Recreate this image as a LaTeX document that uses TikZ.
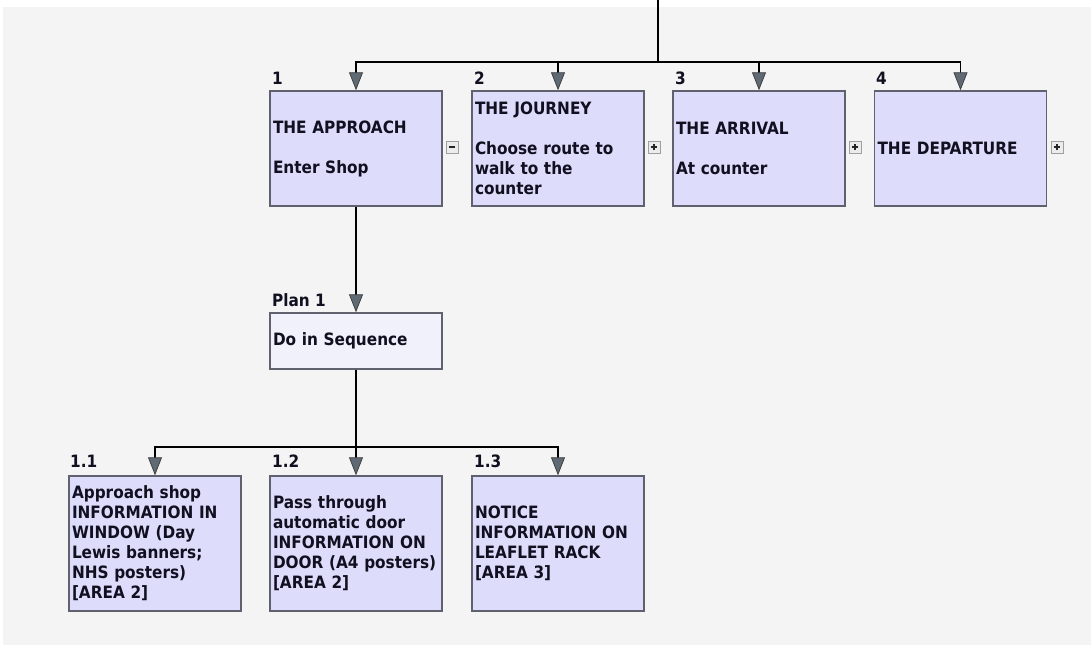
\documentclass[tikz,border=0pt]{standalone}
\usepackage{fontspec}
\setmainfont{DejaVu Sans Condensed}[BoldFont={DejaVu Sans Condensed Bold}]
\usetikzlibrary{arrows.meta}
\definecolor{bgc}{RGB}{244,244,244}
\definecolor{boxfill}{RGB}{221,221,251}
\definecolor{planfill}{RGB}{241,241,251}
\definecolor{boxline}{RGB}{95,98,110}
\definecolor{tipfill}{RGB}{96,106,116}
\definecolor{txt}{RGB}{16,16,32}
\tikzset{
  x=1pt, y=-1pt,
  taskbox/.style={draw=boxline, line width=1.4pt, fill=boxfill, minimum width=172pt,
    minimum height=115pt, text width=166pt, align=left, inner xsep=2pt, inner ysep=3pt, text=txt,
    font=\bfseries\fontsize{17}{20}\selectfont},
  planbox/.style={taskbox, fill=planfill, minimum height=56pt},
  lowbox/.style={taskbox, minimum height=135pt},
  numlbl/.style={anchor=base west, inner sep=0pt, text=txt, font=\bfseries\fontsize{17}{18}\selectfont},
  conn/.style={line width=1.3pt, black},
  arr/.style={conn, -{Triangle[width=14pt,length=18pt,fill=tipfill,color=black!75,line width=0.8pt]}},
  pmicon/.style={draw=gray!75, fill=gray!15, line width=1pt, minimum size=12pt, inner sep=0pt},
}
\newcommand{\plusicon}[2]{\node[pmicon] (#1) at #2 {};
  \draw[line width=1.2pt, black!85] ([xshift=-3.2pt]#1.center) -- ([xshift=3.2pt]#1.center)
    ([yshift=-3.2pt]#1.center) -- ([yshift=3.2pt]#1.center);}
\newcommand{\minusicon}[2]{\node[pmicon] (#1) at #2 {};
  \draw[line width=1.2pt, black!85] ([xshift=-3.2pt]#1.center) -- ([xshift=3.2pt]#1.center);}
\begin{document}
\begin{tikzpicture}
\useasboundingbox (0,0) rectangle (1091,645);
\fill[white] (0,0) rectangle (1091,645);
\fill[bgc] (3,7) rectangle (1091,645);

% top level boxes
\node[taskbox] (b1) at (356,148.5) {THE APPROACH\\[20pt]Enter Shop};
\node[taskbox] (b2) at (558,148.5) {THE JOURNEY\\[20pt]Choose route to\\walk to the\\counter};
\node[taskbox] (b3) at (759,148.5) {THE ARRIVAL\\[20pt]At counter};
\node[taskbox] (b4) at (960.5,148.5) {THE DEPARTURE};

\node[numlbl] (n1) at (272,84) {1};
\node[numlbl] (n2) at (474,84) {2};
\node[numlbl] (n3) at (675,84) {3};
\node[numlbl] (n4) at (876,84) {4};

\minusicon{i1}{(452,147)}
\plusicon{i2}{(654,147)}
\plusicon{i3}{(855,147)}
\plusicon{i4}{(1057,147)}

% plan
\node[planbox] (plan) at (356,341) {Do in Sequence};
\node[numlbl] (pl) at (272,306) {Plan 1};

% lower boxes
\node[lowbox] (c1) at (155,543.5) {Approach shop\\INFORMATION IN\\WINDOW (Day\\Lewis banners;\\NHS posters)\\{[AREA 2]}};
\node[lowbox] (c2) at (356,543.5) {Pass through\\automatic door\\INFORMATION ON\\DOOR (A4 posters)\\{[AREA 2]}};
\node[lowbox] (c3) at (558,543.5) {NOTICE\\INFORMATION ON\\LEAFLET RACK\\{[AREA 3]}};

\node[numlbl] (m1) at (70,467) {1.1};
\node[numlbl] (m2) at (272,467) {1.2};
\node[numlbl] (m3) at (474,467) {1.3};

% connectors
\coordinate (top) at (658,0);
\coordinate (hub) at (658,62);
\draw[conn] (top) -- (hub);
\draw[arr] (hub) -| (b1.north);
\draw[arr] (hub) -| (b2.north);
\draw[arr] (hub) -| (b3.north);
\draw[arr] (hub) -| (b4.north);

\draw[arr] (b1.south) -- (plan.north);

\coordinate (hub2) at (356,447);
\draw[conn] (plan.south) -- (hub2);
\draw[arr] (hub2) -| (c1.north);
\draw[arr] (hub2) -- (c2.north);
\draw[arr] (hub2) -| (c3.north);
\end{tikzpicture}
\end{document}
